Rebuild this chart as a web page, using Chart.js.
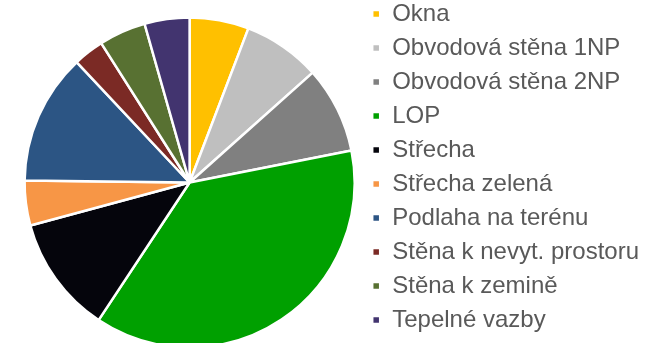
<!DOCTYPE html>
<html lang="cs">
<head>
  <meta charset="UTF-8">
  <title>Tepelné ztráty podle konstrukcí</title>
  <script src="https://cdn.jsdelivr.net/npm/chart.js"></script>
  <style>
    html, body { margin: 0; padding: 0; background: #fff; }
    #wrap { width: 646px; height: 343px; }
  </style>
</head>
<body>
  <div id="wrap"><canvas id="pieChart"></canvas></div>

  <script>
    // categories and shares (%)
    const labels = [
      'Okna', 'Obvodová stěna 1NP', 'Obvodová stěna 2NP', 'LOP', 'Střecha',
      'Střecha zelená', 'Podlaha na terénu', 'Stěna k nevyt. prostoru',
      'Stěna k zemině', 'Tepelné vazby'
    ];
    const shares = [5.8, 7.6, 8.5, 37.4, 11.5, 4.4, 12.8, 3.0, 4.6, 4.4];
    const colors = [
      '#ffc000', '#bfbfbf', '#808080', '#00a000', '#05050c',
      '#f79646', '#2c5584', '#7b2a25', '#587132', '#42346f'
    ];

    Chart.defaults.font.family = '"Liberation Sans", Arial, sans-serif';

    // legend hugs the top edge, the pie sits a bit lower
    const pieDrop = {
      id: 'pieDrop',
      afterLayout(chart) {
        chart.chartArea.top += 20;
        chart.chartArea.bottom += 2;
      }
    };

    new Chart(document.getElementById('pieChart'), {
      type: 'pie',
      data: {
        labels,
        datasets: [{
          data: shares,
          backgroundColor: colors,
          borderColor: '#ffffff',
          borderWidth: 2.5
        }]
      },
      options: {
        responsive: true,
        maintainAspectRatio: false,
        animation: false,
        radius: 165,
        layout: { padding: { left: 17, right: -3, top: -8, bottom: 0 } },
        plugins: {
          tooltip: { enabled: false },
          legend: {
            position: 'right',
            align: 'start',
            labels: {
              boxWidth: 8,
              boxHeight: 8,
              padding: 10,
              color: '#595959',
              font: { size: 24 }
            }
          }
        }
      },
      plugins: [pieDrop]
    });
  </script>
</body>
</html>
